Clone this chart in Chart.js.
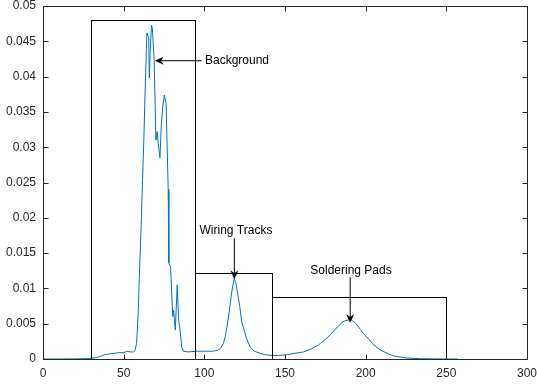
<!DOCTYPE html>
<html>
<head>
<meta charset="utf-8">
<script src="https://cdn.jsdelivr.net/npm/chart.js@4/dist/chart.umd.min.js"></script>
<style>
html,body{margin:0;padding:0;background:#fff;}
#wrap{width:537px;height:385px;position:relative;}
</style>
</head>
<body>
<div id="wrap"><canvas id="c" width="537" height="385"></canvas></div>
<script>
// Histogram curve (grey level vs. normalised frequency)
const xs = [0,10,20,28,30,33,36,38,41,44,47,50,52,54,56,57,58,59,60,61,61.7,62.5,63.3,64.4,65.5,65.9,66.5,67.3,67.8,68.9,70,70.8,71.4,72.5,73.3,74.2,75.2,76.3,77.6,78,79.1,80.4,81,81.5,82,83.2,84.1,85,86,87,90,95,100,105,108,110,111.8,113,114,115.5,117,118.5,119.5,121,122,123.2,124.2,126,128.4,131,134.6,138,142,146,151,156,161.5,166,170,172,175,178,181,183,185.3,187,189,190.5,192,194,196.7,199,202,205,209,213.3,218,223.6,228,234,240,250,257];
const ys = [0,0,0.00002,0.00005,0.0001,0.0002,0.0004,0.0006,0.0007,0.0008,0.0009,0.0009,0.0011,0.001,0.001,0.0012,0.0022,0.0065,0.0136,0.02,0.0254,0.031,0.038,0.0462,0.0455,0.0398,0.044,0.0473,0.0468,0.0423,0.031,0.0322,0.0305,0.0285,0.033,0.0357,0.0374,0.0362,0.024,0.0136,0.013,0.006,0.0069,0.0055,0.0041,0.0105,0.0055,0.004,0.0017,0.0011,0.001,0.0011,0.0011,0.0011,0.0012,0.0015,0.0022,0.0032,0.0045,0.0068,0.0095,0.0114,0.0108,0.0088,0.0074,0.0052,0.0045,0.003,0.0017,0.0011,0.0008,0.0006,0.0005,0.0005,0.0006,0.0008,0.001,0.0014,0.0019,0.0022,0.0028,0.0034,0.0042,0.0046,0.0052,0.0054,0.0055,0.0056,0.0054,0.005,0.0042,0.0035,0.0028,0.002,0.0013,0.0008,0.0004,0.0002,0.0001,0.00005,0.00002,0,0];

// Axis ticks
const xTicks = [0,50,100,150,200,250,300];
const yTicks = [0,0.005,0.01,0.015,0.02,0.025,0.03,0.035,0.04,0.045,0.05];

// Region boxes: [xStart, xEnd, yTop]
const boxXStart = [30, 94, 142];
const boxXEnd   = [94, 142, 250];
const boxYTop   = [0.048, 0.0122, 0.0088];

// Annotations
const annLabels = ["Background", "Wiring Tracks", "Soldering Pads"];
const annTextX  = [100.4, 119.6, 190.9];
const annTextY  = [0.0422, 0.01815, 0.01257];
const annAlign  = ["left", "center", "center"];
const arrowFromX = [98.3, 118.6, 190.4];
const arrowFromY = [0.04225, 0.0171, 0.01158];
const arrowToX   = [69.3, 118.6, 190.4];
const arrowToY   = [0.04225, 0.0113, 0.0051];

const FONT = "'Liberation Sans', Arial, Helvetica, sans-serif";
const AXIS_COLOR = '#262626';

const overlay = {
  id: 'overlay',
  afterDatasetsDraw(chart) {
    const ctx = chart.ctx;
    const xS = chart.scales.x, yS = chart.scales.y;
    ctx.save();
    ctx.strokeStyle = '#000';
    ctx.lineWidth = 1;
    for (let i = 0; i < boxXStart.length; i++) {
      const x0 = Math.round(xS.getPixelForValue(boxXStart[i])) + 0.5;
      const x1 = Math.round(xS.getPixelForValue(boxXEnd[i])) + 0.5;
      const y0 = Math.round(yS.getPixelForValue(boxYTop[i])) + 0.5;
      const y1 = Math.round(yS.getPixelForValue(0)) + 0.5;
      ctx.strokeRect(x0, y0, x1 - x0, y1 - y0);
    }
    for (let i = 0; i < annLabels.length; i++) {
      const fx = xS.getPixelForValue(arrowFromX[i]), fy = yS.getPixelForValue(arrowFromY[i]);
      const tx = xS.getPixelForValue(arrowToX[i]), ty = yS.getPixelForValue(arrowToY[i]);
      const ang = Math.atan2(ty - fy, tx - fx);
      const L = 9, W = 4, notch = 6;
      ctx.strokeStyle = '#000';
      ctx.lineWidth = 1;
      ctx.beginPath();
      ctx.moveTo(fx, fy);
      ctx.lineTo(tx - notch * Math.cos(ang), ty - notch * Math.sin(ang));
      ctx.stroke();
      ctx.fillStyle = '#000';
      ctx.beginPath();
      ctx.moveTo(tx, ty);
      const bx = tx - L * Math.cos(ang), by = ty - L * Math.sin(ang);
      const nx = -Math.sin(ang), ny = Math.cos(ang);
      ctx.lineTo(bx + W * nx, by + W * ny);
      ctx.lineTo(tx - notch * Math.cos(ang), ty - notch * Math.sin(ang));
      ctx.lineTo(bx - W * nx, by - W * ny);
      ctx.closePath();
      ctx.fill();
      ctx.font = '12px ' + FONT;
      ctx.textAlign = annAlign[i];
      ctx.textBaseline = 'middle';
      ctx.fillText(annLabels[i], xS.getPixelForValue(annTextX[i]), yS.getPixelForValue(annTextY[i]));
    }
    ctx.restore();
  },
  afterDraw(chart) {
    const ctx = chart.ctx;
    const xS = chart.scales.x, yS = chart.scales.y;
    const a = chart.chartArea;
    ctx.save();
    ctx.strokeStyle = AXIS_COLOR;
    ctx.lineWidth = 1;
    const L = Math.round(a.left) + 0.5, R = Math.round(a.right) + 0.5;
    const T = Math.round(a.top) + 0.5, B = Math.round(a.bottom) + 0.5;
    ctx.strokeRect(L, T, R - L, B - T);
    const tl = 5;
    ctx.beginPath();
    xTicks.forEach(v => {
      const p = Math.round(xS.getPixelForValue(v)) + 0.5;
      ctx.moveTo(p, B); ctx.lineTo(p, B - tl);
      ctx.moveTo(p, T); ctx.lineTo(p, T + tl);
    });
    yTicks.forEach(v => {
      const p = Math.round(yS.getPixelForValue(v)) + 0.5;
      ctx.moveTo(L, p); ctx.lineTo(L + tl, p);
      ctx.moveTo(R, p); ctx.lineTo(R - tl, p);
    });
    ctx.stroke();
    ctx.restore();
  }
};

new Chart(document.getElementById('c'), {
  type: 'line',
  data: {
    datasets: [{
      data: xs.map((x, i) => ({x: x, y: ys[i]})),
      borderColor: '#0072BD',
      borderWidth: 1,
      pointRadius: 0,
      tension: 0,
      fill: false
    }]
  },
  options: {
    responsive: false,
    animation: false,
    devicePixelRatio: 1,
    layout: { padding: { top: 6, right: 10, left: 0, bottom: 0 } },
    plugins: { legend: { display: false }, tooltip: { enabled: false } },
    scales: {
      x: {
        type: 'linear', min: 0, max: 300,
        afterBuildTicks: s => { s.ticks = xTicks.map(v => ({value: v})); },
        afterFit: s => { s.height = 26; s.paddingLeft = 0; s.paddingRight = 0; },
        grid: { display: false, drawTicks: false },
        border: { display: false },
        ticks: { padding: 7, color: AXIS_COLOR, font: { family: FONT, size: 12 }, maxRotation: 0, autoSkip: false }
      },
      y: {
        type: 'linear', min: 0, max: 0.05,
        afterBuildTicks: s => { s.ticks = yTicks.map(v => ({value: v})); },
        afterFit: s => { s.width = 43; s.paddingTop = 0; s.paddingBottom = 0; },
        grid: { display: false, drawTicks: false },
        border: { display: false },
        ticks: { padding: 7, color: AXIS_COLOR, font: { family: FONT, size: 12 }, autoSkip: false,
          callback: v => String(parseFloat(Number(v).toFixed(3))) }
      }
    }
  },
  plugins: [overlay]
});
</script>
</body>
</html>
